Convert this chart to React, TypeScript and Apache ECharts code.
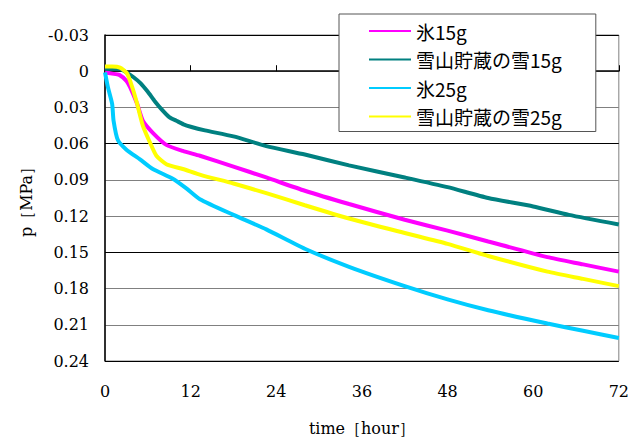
import React, { useEffect, useRef } from "react";
import * as echarts from "echarts";

const seriesNames = ["氷15g", "雪山貯蔵の雪15g", "氷25g", "雪山貯蔵の雪25g"];
const seriesColors = ["#ff00ff", "#008080", "#00ccff", "#ffff00"];

const ice15Hours = [0, 1, 2, 3, 3.5, 4.5, 5.3, 6.7, 8.6, 10.9, 13.3, 18, 22.6, 28, 34.2, 42, 48, 53.7, 62, 67, 72];
const ice15Values = [0.001, 0.002, 0.003, 0.008, 0.013, 0.027, 0.041, 0.051, 0.061, 0.066, 0.07, 0.079, 0.088, 0.099, 0.11, 0.123, 0.132, 0.141, 0.154, 0.16, 0.166];

const snow15Hours = [0, 2, 3, 4, 5, 6, 7, 8, 9, 10, 11, 12, 14, 18, 22.6, 28, 34.2, 42, 48, 53.7, 60, 65, 72];
const snow15Values = [-0.002, -0.002, 0.001, 0.005, 0.01, 0.017, 0.025, 0.032, 0.038, 0.041, 0.044, 0.046, 0.049, 0.054, 0.062, 0.069, 0.078, 0.088, 0.096, 0.105, 0.112, 0.119, 0.127];

const ice25Hours = [0, 0.4, 1, 1.2, 1.8, 3, 4.9, 6.7, 9.5, 11.4, 13.3, 18, 22.6, 28, 34.2, 42, 48, 53.7, 62, 67, 72];
const ice25Values = [0.001, 0.013, 0.027, 0.041, 0.057, 0.065, 0.073, 0.081, 0.089, 0.097, 0.106, 0.119, 0.131, 0.147, 0.162, 0.178, 0.189, 0.198, 0.209, 0.215, 0.221];

const snow25Hours = [0, 1, 2.1, 3.1, 3.8, 4.5, 5.3, 6.3, 7.2, 8.6, 10.9, 13.5, 18, 22.6, 28, 34.2, 42, 48, 53.7, 62, 67, 72];
const snow25Values = [-0.004, -0.004, -0.003, 0.002, 0.013, 0.027, 0.045, 0.059, 0.07, 0.077, 0.081, 0.086, 0.093, 0.101, 0.111, 0.122, 0.134, 0.143, 0.153, 0.166, 0.172, 0.178];

const xTicks = [0, 12, 24, 36, 48, 60, 72];
const yTicks = [-0.03, 0, 0.03, 0.06, 0.09, 0.12, 0.15, 0.18, 0.21, 0.24];

const allHours = [ice15Hours, snow15Hours, ice25Hours, snow25Hours];
const allValues = [ice15Values, snow15Values, ice25Values, snow25Values];

const serif = "DejaVu Serif";

export default function App() {
  const ref = useRef<HTMLDivElement>(null);
  useEffect(() => {
    if (!ref.current) return;
    const chart = echarts.init(ref.current, null, { renderer: "svg" });
    chart.setOption({
      animation: false,
      backgroundColor: "#ffffff",
      grid: {
        left: 105,
        right: 11,
        top: 35,
        bottom: 73,
        show: true,
        borderColor: "#808080",
        borderWidth: 1,
      },
      legend: {
        show: true,
        orient: "vertical",
        left: 339,
        top: 14,
        padding: [7, 34, 5, 30],
        itemGap: 8.5,
        itemWidth: 42,
        itemHeight: 2,
        icon: "rect",
        backgroundColor: "#ffffff",
        borderColor: "#555555",
        borderWidth: 1,
        data: seriesNames,
        textStyle: {
          fontFamily: "Noto Sans CJK JP",
          fontSize: 19,
          lineHeight: 20,
          color: "#000",
        },
      },
      xAxis: {
        type: "value",
        min: xTicks[0],
        max: xTicks[xTicks.length - 1],
        interval: 12,
        name: "time［hour］",
        nameLocation: "middle",
        nameGap: 59,
        nameTextStyle: { fontFamily: serif, fontSize: 16, color: "#000" },
        axisLine: { show: true, lineStyle: { color: "#000", width: 1.5 } },
        axisTick: { show: true, inside: true, length: 6, lineStyle: { color: "#000" } },
        axisLabel: { fontFamily: serif, fontSize: 16, color: "#000", margin: 22 },
        splitLine: { show: false },
      },
      yAxis: {
        type: "value",
        inverse: true,
        min: yTicks[0],
        max: yTicks[yTicks.length - 1],
        interval: 0.03,
        name: "p［MPa］",
        nameLocation: "middle",
        nameGap: 71,
        nameRotate: 90,
        nameTextStyle: { fontFamily: serif, fontSize: 16, color: "#000" },
        axisLine: { show: true, lineStyle: { color: "#000", width: 1.5 } },
        axisTick: { show: false },
        axisLabel: {
          fontFamily: serif,
          fontSize: 16,
          color: "#000",
          margin: 16,
          formatter: (v: number) => (Math.abs(v) < 1e-9 ? "0" : v.toFixed(2)),
        },
        splitLine: {
          show: true,
          lineStyle: { color: ["#000000", "#808080", "#808080"], width: 1 },
        },
      },
      series: seriesNames.map((name, i) => ({
        name,
        type: "line",
        symbol: "none",
        smooth: 0.2,
        color: seriesColors[i],
        lineStyle: { color: seriesColors[i], width: 4 },
        data: allHours[i].map((h, j) => [h, allValues[i][j]]),
      })),
    });
    return () => chart.dispose();
  }, []);
  return (
    <div
      ref={ref}
      style={{ position: "absolute", left: 0, top: 0, width: 632, height: 441 }}
    />
  );
}
